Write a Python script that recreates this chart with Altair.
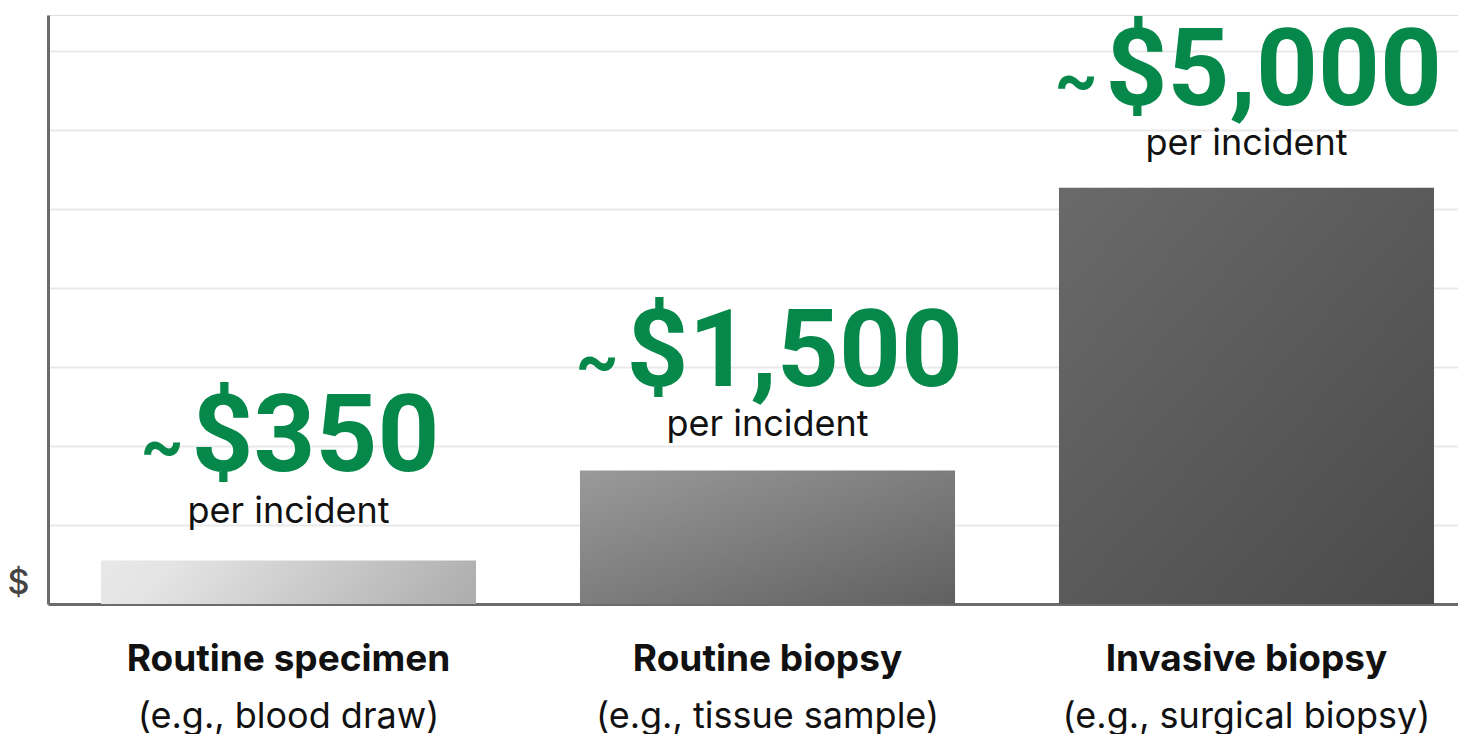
import altair as alt
import pandas as pd

categories = ["Routine specimen", "Routine biopsy", "Invasive biopsy"]
examples = ["(e.g., blood draw)", "(e.g., tissue sample)", "(e.g., surgical biopsy)"]
bar_heights = [0.55, 1.69, 5.27]  # in gridline units as drawn
cost_labels = ["$350", "$1,500", "$5,000"]
approx_sign = ["~", "~", "~"]
unit_labels = ["per incident", "per incident", "per incident"]

df = pd.DataFrame({
    "cat": categories,
    "ex": examples,
    "h": bar_heights,
    "cost": cost_labels,
    "approx": approx_sign,
    "unit": unit_labels,
})

W, H = 1410, 589
GREEN = "#05884a"

# per-label text offsets (style only)
num_dx = [-97, -141, -141]
num_dy = [-90, -84, -83]
unit_dy = [-38, -34, -33]

xscale = alt.Scale(domain=categories, range=[0, 1439], paddingInner=0.217, paddingOuter=0.1106)
yscale = alt.Scale(domain=[0, 7.456], nice=False)

base = alt.Chart(df)
X = alt.X("cat:N", scale=xscale, sort=categories)
Y = alt.Y("h:Q", scale=yscale)

x_enc = alt.X("cat:N", scale=xscale, sort=categories,
              axis=alt.Axis(labels=False, ticks=False, title=None, domainColor="#6b6b6b",
                            domainWidth=3, grid=False))
y_enc = alt.Y("h:Q", scale=yscale,
              axis=alt.Axis(values=[0, 1, 2, 3, 4, 5, 6, 7], labels=False, ticks=False,
                            grid=True, gridColor="#e9e9e9", gridWidth=2,
                            domainColor="#6b6b6b", domainWidth=3,
                            title="$", titleAngle=0, titleFontSize=34, titleFont="Inter",
                            titleFontWeight=500, titleColor="#444444",
                            titleX=-30, titleY=568, titleBaseline="middle",
                            titleAlign="center"))

gradients = [
    alt.Gradient(gradient="linear", x1=0, y1=0.45, x2=1, y2=0.55,
                 stops=[alt.GradientStop(color="#e7e7e7", offset=0),
                        alt.GradientStop(color="#e4e4e4", offset=0.15),
                        alt.GradientStop(color="#afafaf", offset=1)]),
    alt.Gradient(gradient="linear", x1=0, y1=0, x2=1, y2=1,
                 stops=[alt.GradientStop(color="#9a9a9a", offset=0),
                        alt.GradientStop(color="#606060", offset=1)]),
    alt.Gradient(gradient="linear", x1=0, y1=0, x2=1, y2=1,
                 stops=[alt.GradientStop(color="#6a6a6a", offset=0),
                        alt.GradientStop(color="#4a4a4a", offset=1)]),
]

layers = []
for i, c in enumerate(categories):
    sub = base.transform_filter(alt.datum.cat == c)
    layers.append(sub.mark_bar(color=gradients[i]).encode(x=x_enc, y=y_enc))
    layers.append(sub.mark_text(font="Roboto", fontWeight="bold", fontSize=108, color=GREEN,
                                baseline="alphabetic", align="left",
                                dx=num_dx[i], dy=num_dy[i]).encode(x=X, y=Y, text="cost:N"))
    layers.append(sub.mark_text(font="Roboto", fontWeight="bold", fontSize=66, color=GREEN,
                                baseline="alphabetic", align="right",
                                dx=num_dx[i] - 8, dy=num_dy[i] - 3).encode(x=X, y=Y, text="approx:N"))
    layers.append(sub.mark_text(font="Inter", fontSize=36, color="#111111",
                                baseline="alphabetic", dy=unit_dy[i]).encode(x=X, y=Y, text="unit:N"))

cat_text = base.mark_text(font="Inter", fontWeight="bold", fontSize=37, color="#111111",
                          baseline="alphabetic", dy=67).encode(x=X, y=alt.datum(0), text="cat:N")

ex_text = base.mark_text(font="Inter", fontSize=36, color="#111111",
                         baseline="alphabetic", dy=124).encode(x=X, y=alt.datum(0), text="ex:N")

chart = alt.layer(*layers, cat_text, ex_text).properties(
    width=W, height=H,
    autosize=alt.AutoSizeParams(type="none"),
    padding={"left": 40, "top": 7, "right": 0, "bottom": 130},
).configure_view(stroke=None).configure(background="white")

chart.save("out.html", embed_options={"renderer": "svg", "actions": False})
